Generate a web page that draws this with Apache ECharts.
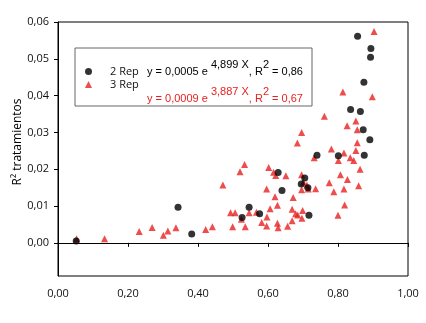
<!DOCTYPE html>
<html>
<head>
<meta charset="utf-8">
<script src="https://cdn.jsdelivr.net/npm/echarts@6/dist/echarts.min.js"></script>
<style>html,body{margin:0;padding:0;background:#fff}#c{width:426px;height:323px}</style>
</head>
<body>
<div id="c"></div>
<script>
const seriesNames = ['2 Rep', '3 Rep'];
const rep2X = [0.052,0.343,0.382,0.526,0.546,0.576,0.629,0.640,0.695,0.705,0.714,0.717,0.740,0.801,0.836,0.864,0.872,0.875,0.874,0.891,0.893,0.894,0.856];
const rep2Y = [0.0005,0.0097,0.0024,0.0069,0.0097,0.0079,0.0191,0.0142,0.0160,0.0176,0.0150,0.0075,0.0238,0.0237,0.0362,0.0357,0.0307,0.0238,0.0436,0.0280,0.0504,0.0528,0.0561];
const rep3X = [0.053,0.133,0.232,0.269,0.301,0.314,0.337,0.422,0.441,0.471,0.493,0.506,0.499,0.520,0.533,0.524,0.535,0.546,0.567,0.582,0.596,0.602,0.597,0.596,0.606,0.616,0.622,0.620,0.627,0.627,0.629,0.651,0.656,0.669,0.672,0.669,0.679,0.685,0.684,0.696,0.696,0.701,0.711,0.696,0.715,0.736,0.699,0.697,0.732,0.761,0.775,0.781,0.788,0.801,0.800,0.807,0.814,0.817,0.817,0.819,0.826,0.827,0.835,0.845,0.851,0.851,0.855,0.855,0.859,0.863,0.898,0.903];
const rep3Y = [0.0011,0.0011,0.0031,0.0042,0.0021,0.0032,0.0041,0.0036,0.0044,0.0157,0.0082,0.0082,0.0044,0.0193,0.0213,0.0064,0.0044,0.0082,0.0083,0.0055,0.0146,0.0205,0.0070,0.0046,0.0093,0.0192,0.0183,0.0125,0.0102,0.0053,0.0041,0.0182,0.0045,0.0091,0.0123,0.0060,0.0079,0.0076,0.0271,0.0300,0.0185,0.0165,0.0157,0.0144,0.0146,0.0147,0.0088,0.0067,0.0231,0.0344,0.0163,0.0255,0.0139,0.0224,0.0075,0.0185,0.0410,0.0244,0.0146,0.0103,0.0318,0.0172,0.0231,0.0224,0.0331,0.0251,0.0307,0.0272,0.0155,0.0200,0.0397,0.0574];
const xTicks = [0, 0.2, 0.4, 0.6, 0.8, 1.0];
const yTicks = [0, 0.01, 0.02, 0.03, 0.04, 0.05, 0.06];
const yAxisTitle = 'R² tratamientos';
const eq2 = ['y = 0,0005 e ', '4,899 X', ', R', '2', ' = 0,86'];
const eq3 = ['y = 0,0009 e ', '3,887 X', ', R', '2', ' = 0,67'];

const RED = '#e8211f';
const fmt = v => v.toFixed(2).replace('.', ',');
const zip = (a, b) => a.map((v, i) => [v, b[i]]);
const font = 'Open Sans';

function eqText(parts, color) {
  return {
    text: '{m|' + parts[0] + '}{s|' + parts[1] + '}{m|' + parts[2] + '}{s|' + parts[3] + '}{m|' + parts[4] + '}',
    rich: {
      m: { fontFamily: 'Liberation Sans', fontSize: 11, fill: color, padding: [7, 0, 0, 0] },
      s: { fontFamily: 'Liberation Sans', fontSize: 11, fill: color, padding: [0, 0, 7, 0] }
    }
  };
}

const chart = echarts.init(document.getElementById('c'), null, { renderer: 'canvas' });
chart.setOption({
  animation: false,
  grid: { left: 58, right: 18, top: 22, bottom: 47, show: true, borderColor: '#000', borderWidth: 1 },
  xAxis: {
    type: 'value', min: 0, max: 1, interval: 0.2,
    axisLine: { lineStyle: { color: '#000' } },
    axisTick: { show: true, length: 4, lineStyle: { color: '#000' } },
    splitLine: { show: false },
    axisLabel: { formatter: fmt, color: '#111', fontFamily: font, fontSize: 11, margin: 12 }
  },
  yAxis: {
    type: 'value', min: -0.009, max: 0.06,
    axisLine: { show: true, lineStyle: { color: '#000' } },
    axisTick: { show: true, length: 4, customValues: yTicks, lineStyle: { color: '#000' } },
    splitLine: { show: false },
    axisLabel: { customValues: yTicks, formatter: fmt, color: '#111', fontFamily: font, fontSize: 11, margin: 9 }
  },
  legend: {
    orient: 'vertical', left: 85, top: 65, itemWidth: 7, itemHeight: 7, itemGap: 0, padding: 0,
    textStyle: { fontFamily: font, fontSize: 11, color: '#111', lineHeight: 13, padding: [0, 0, 0, 13] },
    data: [{ name: seriesNames[0], icon: 'circle' }, { name: seriesNames[1], icon: 'triangle' }]
  },
  graphic: [
    { type: 'rect', shape: { x: 75, y: 48, width: 237, height: 58 }, style: { fill: 'rgba(0,0,0,0)', stroke: '#666', lineWidth: 1 }, z: -1 },
    { type: 'text', x: 147, y: 59, style: eqText(eq2, '#000') },
    { type: 'text', x: 147, y: 86, style: eqText(eq3, RED) },
    { type: 'text', x: 18, y: 142, rotation: Math.PI / 2, style: { text: yAxisTitle, fontFamily: font, fontSize: 12, fill: '#000', align: 'center', verticalAlign: 'middle' } }
  ],
  series: [
    { name: seriesNames[0], type: 'scatter', symbol: 'circle', symbolSize: 7, itemStyle: { color: '#000' }, data: zip(rep2X, rep2Y), z: 3 },
    { name: seriesNames[1], type: 'scatter', symbol: 'triangle', symbolSize: 7, itemStyle: { color: RED }, data: zip(rep3X, rep3Y), z: 2 }
  ]
});
</script>
</body>
</html>
